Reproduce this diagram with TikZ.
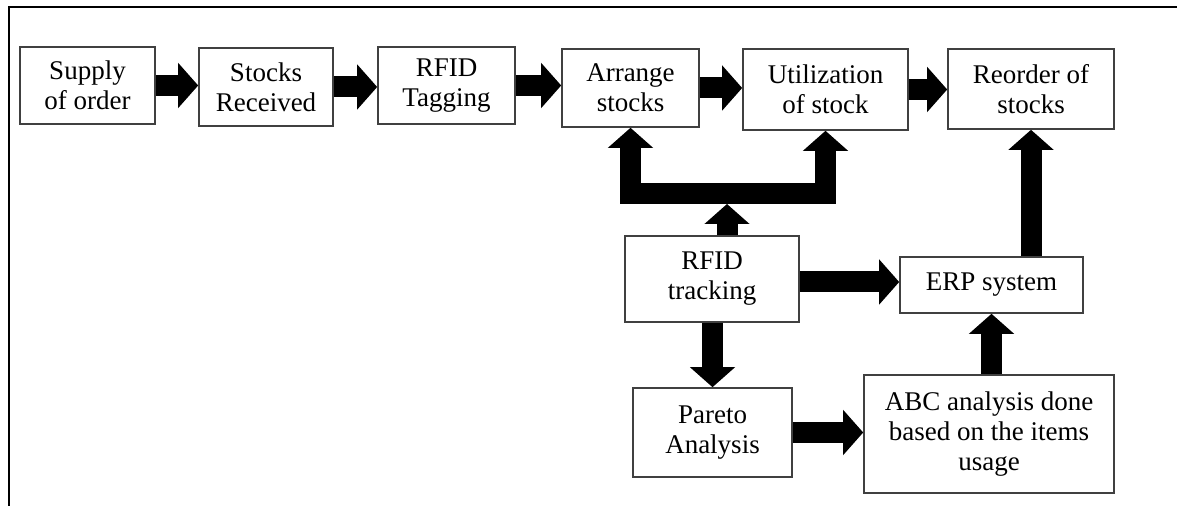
\documentclass[tikz,border=0pt]{standalone}
\usepackage{fontspec}
\setmainfont{Liberation Serif}
\usetikzlibrary{arrows.meta,positioning}
\tikzset{
  % PROCESS BOXES
  frameStep/.style={
    rectangle,
    draw=black!75,
    line width=0.8pt,
    align=center,
    inner sep=2pt
  },
  % BLOCK ARROWS
  lineBlock/.style={
    draw=black,
    line width=10.5pt,
    -{Triangle[length=10pt,width=22pt]}
  },
  % SPLIT ARROW (two heads)
  lineBlockBoth/.style={
    lineBlock,
    {Triangle[length=10pt,width=22pt]}-{Triangle[length=10pt,width=22pt]}
  }
}

\begin{document}
\begin{tikzpicture}[x=0.5pt,y=-0.5pt,font=\fontsize{13.5}{15}\selectfont]
\useasboundingbox (0,0) rectangle (1177,506);

% Frame
\draw [line width=1pt] (9,506) -- (9,7) -- (1177,7);

% Top row
\node [frameStep, minimum width=67.5pt, minimum height=38.5pt] (supply) at (87.5,85.5) {Supply\\of order};
\node [frameStep, minimum width=67pt, minimum height=39pt] (stocks) at (266,87) {Stocks\\Received};
\node [frameStep, minimum width=68.5pt, minimum height=38.5pt] (tagging) at (446.5,85.5) {RFID\\Tagging};
\node [frameStep, minimum width=68.5pt, minimum height=39pt] (arrange) at (630.5,88) {Arrange\\stocks};
\node [frameStep, minimum width=82.5pt, minimum height=40.5pt] (util) at (825.5,89.5) {Utilization\\of stock};
\node [frameStep, minimum width=83pt, minimum height=40pt] (reorder) at (1031,89) {Reorder of\\stocks};

% Lower part
\node [frameStep, minimum width=87pt, minimum height=43pt] (rfidtrack) at (712,279) {RFID\\tracking};
\node [frameStep, minimum width=91.5pt, minimum height=28pt] (erp) at (991.5,285) {ERP system};
\node [frameStep, minimum width=79.5pt, minimum height=44.5pt] (pareto) at (712.5,432.5) {Pareto\\Analysis};
\node [frameStep, minimum width=125pt, minimum height=59pt] (abc) at (989,434) {ABC analysis done\\based on the items\\usage};

% Bus coordinates
\coordinate (bus) at (712,193.5);
\coordinate (busin) at (727,204);

% Lines top row
\path [lineBlock] (supply.east) -- (supply.east -| stocks.west);
\path [lineBlock] (stocks.east) -- (stocks.east -| tagging.west);
\path [lineBlock] (tagging.east) -- (tagging.east -| arrange.west);
\path [lineBlock] (arrange.east) -- (arrange.east -| util.west);
\path [lineBlock] (util.east) -- (util.east -| reorder.west);

% Split from tracking
\path [lineBlockBoth] (arrange.south) |- (bus) -| (util.south);
\path [lineBlock] (rfidtrack.north -| busin) -- (busin);

% Lines lower part
\path [lineBlock] ([yshift=-1.5pt]rfidtrack.east) -- ([yshift=-1.5pt]rfidtrack.east -| erp.west);
\path [lineBlock] (rfidtrack.south -| pareto.north) -- (pareto.north);
\path [lineBlock] (pareto.east) -- (pareto.east -| abc.west);
\path [lineBlock] (abc.north -| erp.south) -- (erp.south);
\path [lineBlock] (erp.north -| reorder.south) -- (reorder.south);

\end{tikzpicture}
\end{document}
